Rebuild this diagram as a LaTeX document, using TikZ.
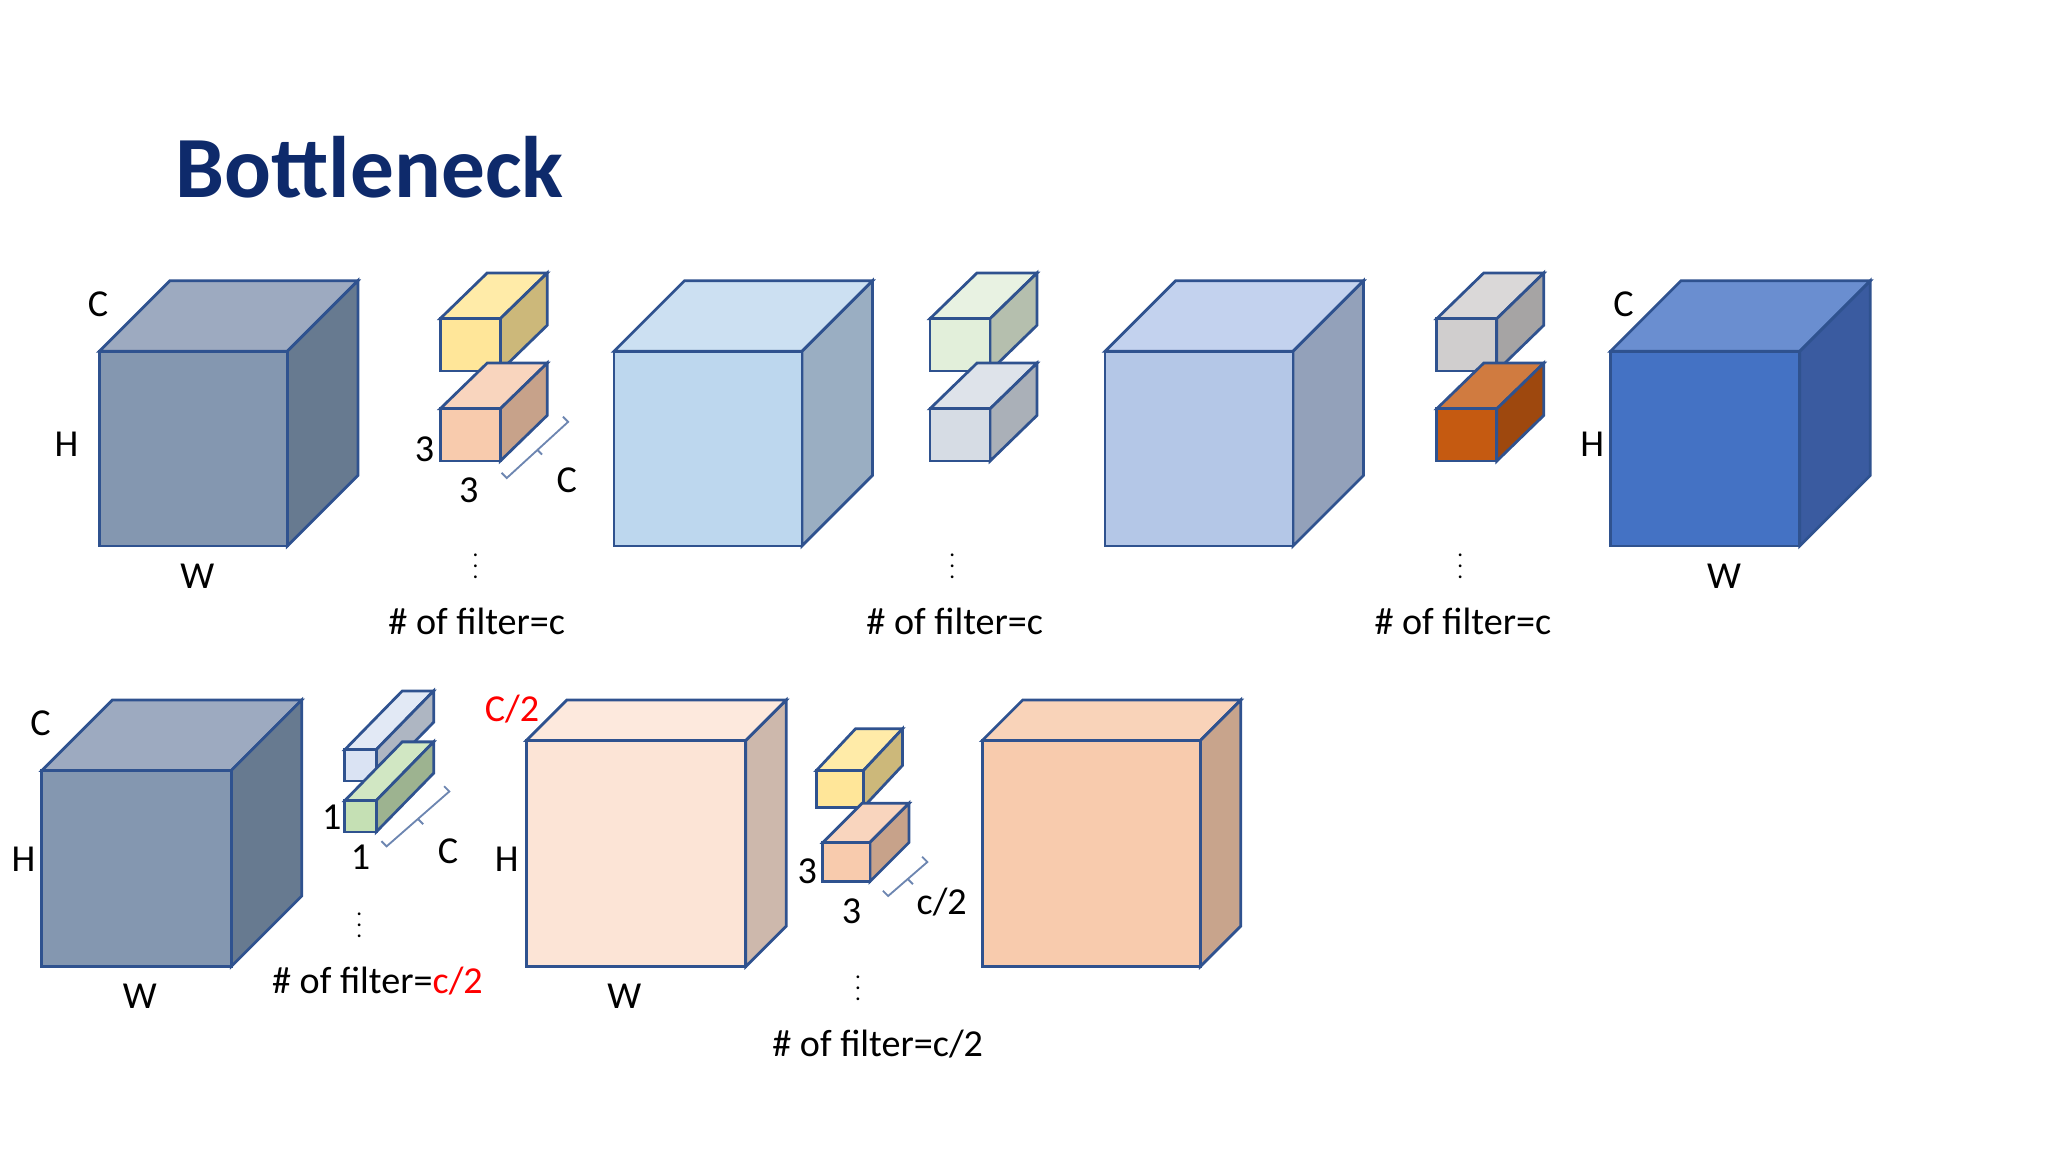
\documentclass[tikz,border=0pt]{standalone}
\usepackage{fontspec}
\setmainfont{Carlito}
\definecolor{edgeBlue}{HTML}{2F528F}
\definecolor{titleBlue}{HTML}{0E2A6B}
\newcommand{\cuboid}[9]{%
	\definecolor{cubeFront}{HTML}{#7}\definecolor{cubeTop}{HTML}{#8}\definecolor{cubeSide}{HTML}{#9}%
	\draw[cubeLine,fill=cubeTop] (#1,#2) -- ++(#5,#6) -- (#3+#5,#2+#6) -- (#3,#2) -- cycle;
	\draw[cubeLine,fill=cubeSide] (#3,#2) -- (#3+#5,#2+#6) -- (#3+#5,#4+#6) -- (#3,#4) -- cycle;
	\draw[cubeLine,fill=cubeFront] (#1,#2) rectangle (#3,#4);
}
\newcommand{\smalldots}{\scalebox{0.6}{$\boldsymbol{\vdots}$}}
\usepackage{amsmath,amssymb}
\begin{document}
\begin{tikzpicture}[x=0.01cm,y=-0.01cm]
	\tikzset{cubeLine/.style = {draw=edgeBlue,line width=0.6pt}}
	\tikzset{lbl/.style = {font=\fontsize{8.3}{9}\selectfont,inner sep=1pt}}
	\tikzset{brc/.style = {draw=edgeBlue!70,thin}}
	\useasboundingbox (0,0) rectangle (1568,882);
	\node[font=\bfseries\fontsize{19}{22}\selectfont,text=titleBlue] (title) at (283,128) {Bottleneck};
	%row 1 cubes
	\cuboid{76}{269}{220}{418}{54}{-54}{8497B0}{9DAAC0}{677A90}
	\cuboid{470}{269}{614}{418}{54}{-54}{BDD7EE}{CCE0F2}{9AAEC2}
	\cuboid{846}{269}{990}{418}{54}{-54}{B4C7E7}{C3D2EE}{93A1BA}
	\cuboid{1233}{269}{1378}{418}{54}{-54}{4472C4}{6A8ED0}{3A5BA0}
	%row 1 filters
	\cuboid{337}{244}{383}{284}{36}{-35}{FFE699}{FFEBA8}{CCB87A}
	\cuboid{337}{313}{383}{353}{36}{-35}{F8CBAD}{F9D5BE}{C7A28A}
	\cuboid{712}{244}{758}{284}{36}{-35}{E2EFDA}{E8F2E2}{B5BFAE}
	\cuboid{712}{313}{758}{353}{36}{-35}{D6DCE4}{DEE3EA}{AAB0B8}
	\cuboid{1100}{244}{1146}{284}{36}{-35}{D0CECE}{DAD8D8}{A6A4A4}
	\cuboid{1100}{313}{1146}{353}{36}{-35}{C55A11}{D07B40}{9E480E}
	\draw[brc] (431,319) -- (435,323) -- (388,366) -- (384,362) (411,344) -- (415,348);
	%row 2 cubes
	\cuboid{32}{590}{177}{740}{54}{-54}{8497B0}{9DAAC0}{677A90}
	\cuboid{403}{567}{571}{740}{31}{-31}{FCE4D6}{FDE9DD}{CDB8AC}
	\cuboid{752}{567}{919}{740}{31}{-31}{F8CBAD}{F9D3B9}{C8A48C}
	%row 2 filters
	\cuboid{264}{574}{288}{598}{44}{-45}{DAE3F3}{E2E9F5}{AEB6C2}
	\cuboid{264}{613}{288}{637}{44}{-45}{C5E0B4}{D1E7C3}{9DB390}
	\cuboid{625}{590}{661}{618}{30}{-32}{FFE699}{FFEBA8}{CCB87A}
	\cuboid{630}{645}{666}{675}{30}{-30}{F8CBAD}{F9D5BE}{C7A28A}
	\draw[brc] (340,602) -- (344,606) -- (296,648) -- (292,644) (320,627) -- (324,631);
	\draw[brc] (706,656) -- (710,660) -- (680,686) -- (676,682) (695,673) -- (699,677);
	%labels row 1
	\node[lbl] (c1) at (75,233) {C};
	\node[lbl] (h1) at (51,340) {H};
	\node[lbl] (w1) at (151,441) {W};
	\node[lbl] (k1a) at (325,344) {3};
	\node[lbl] (k1b) at (359,375) {3};
	\node[lbl] (k1c) at (434,368) {C};
	\node[lbl] (d1) at (364,427) {\smalldots};
	\node[lbl] (f1) at (365,476) {\# of filter=c};
	\node[lbl] (d2) at (729,427) {\smalldots};
	\node[lbl] (f2) at (731,476) {\# of filter=c};
	\node[lbl] (d3) at (1118,427) {\smalldots};
	\node[lbl] (f3) at (1120,476) {\# of filter=c};
	\node[lbl] (c4) at (1243,233) {C};
	\node[lbl] (h4) at (1219,340) {H};
	\node[lbl] (w4) at (1320,441) {W};
	%labels row 2
	\node[lbl] (c5) at (31,554) {C};
	\node[lbl] (h5) at (18,658) {H};
	\node[lbl] (w5) at (107,763) {W};
	\node[lbl] (k5a) at (254,626) {1};
	\node[lbl] (k5b) at (276,656) {1};
	\node[lbl] (k5c) at (343,652) {C};
	\node[lbl] (d5) at (275,702) {\smalldots};
	\node[lbl] (f5) at (289,751) {\# of filter=\textcolor{red}{c/2}};
	\node[lbl,text=red] (c6) at (392,543) {C/2};
	\node[lbl] (h6) at (388,658) {H};
	\node[lbl] (w6) at (478,763) {W};
	\node[lbl] (k6a) at (618,667) {3};
	\node[lbl] (k6b) at (652,698) {3};
	\node[lbl] (k6c) at (721,691) {c/2};
	\node[lbl] (d6) at (657,750) {\smalldots};
	\node[lbl] (f6) at (672,799) {\# of filter=c/2};
\end{tikzpicture}
\end{document}
